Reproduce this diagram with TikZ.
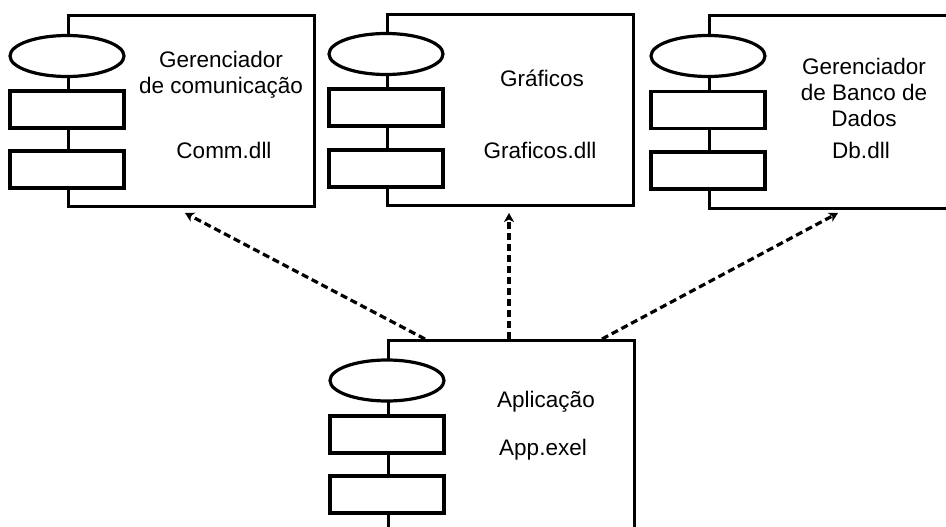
\documentclass[tikz,border=0pt]{standalone}
\usepackage{fontspec}
\setmainfont{Liberation Sans}
\usetikzlibrary{arrows.meta,shapes.geometric}
\begin{document}
\begin{tikzpicture}[x=1pt,y=-1pt,
  comp/.style={draw,line width=3.2pt,minimum width=246pt,inner sep=0pt,anchor=north west},
  ell/.style={draw,ellipse,line width=3.2pt,fill=white,minimum width=114pt,minimum height=41pt,inner sep=0pt},
  port/.style={draw,line width=3.2pt,fill=white,minimum width=114pt,minimum height=37pt,inner sep=0pt},
  lbl/.style={font=\fontsize{22.5}{26}\selectfont,anchor=base,inner sep=0pt},
  dep/.style={line width=3.2pt,dash pattern=on 7pt off 4pt,-{Stealth[length=9pt,width=10pt,inset=2.5pt]}}]
\clip (0,0) rectangle (946,527);
\fill[white] (0,0) rectangle (946,527);
% components
\node[comp,minimum height=191pt] (b1) at (67,14) {};
\node[comp,minimum height=191pt] (b2) at (386,13) {};
\node[comp,minimum height=193pt,minimum width=260pt] (b3) at (708,14) {};
\node[comp,minimum height=210pt] (b4) at (387,339) {};
% box 1
\node[ell] (e1) at (67,56) {};
\node[port] (p1a) at (67,109.5) {};
\node[port] (p1b) at (67,169.5) {};
\node[lbl] (t1a) at (221,67) {Gerenciador};
\node[lbl] (t1b) at (221,93) {de comunicação};
\node[lbl] (t1c) at (224,158) {Comm.dll};
% box 2
\node[ell] (e2) at (386,54) {};
\node[port] (p2a) at (386,107.5) {};
\node[port] (p2b) at (386,168.5) {};
\node[lbl] (t2a) at (542,87) {Gráficos};
\node[lbl] (t2b) at (540,158) {Graficos.dll};
% box 3
\node[ell] (e3) at (708,56) {};
\node[port] (p3a) at (708,110) {};
\node[port] (p3b) at (708,170.5) {};
\node[lbl] (t3a) at (864,75) {Gerenciador};
\node[lbl] (t3b) at (864,101) {de Banco de};
\node[lbl] (t3c) at (864,126) {Dados};
\node[lbl] (t3d) at (861,158) {Db.dll};
% box 4
\node[ell] (e4) at (387,380.5) {};
\node[port] (p4a) at (387,434.5) {};
\node[port] (p4b) at (387,494.5) {};
\node[lbl] (t4a) at (546,407) {Aplicação};
\node[lbl] (t4b) at (543,455) {App.exel};
% dependencies
\coordinate (s1) at (425,339);
\coordinate (s2) at (509,339);
\coordinate (s3) at (602,339);
\coordinate (d1) at (185,213);
\coordinate (d2) at (509,213);
\coordinate (d3) at (838,213);
\draw[dep] (s1) -- (d1);
\draw[dep] (s2) -- (d2);
\draw[dep] (s3) -- (d3);
\end{tikzpicture}
\end{document}
